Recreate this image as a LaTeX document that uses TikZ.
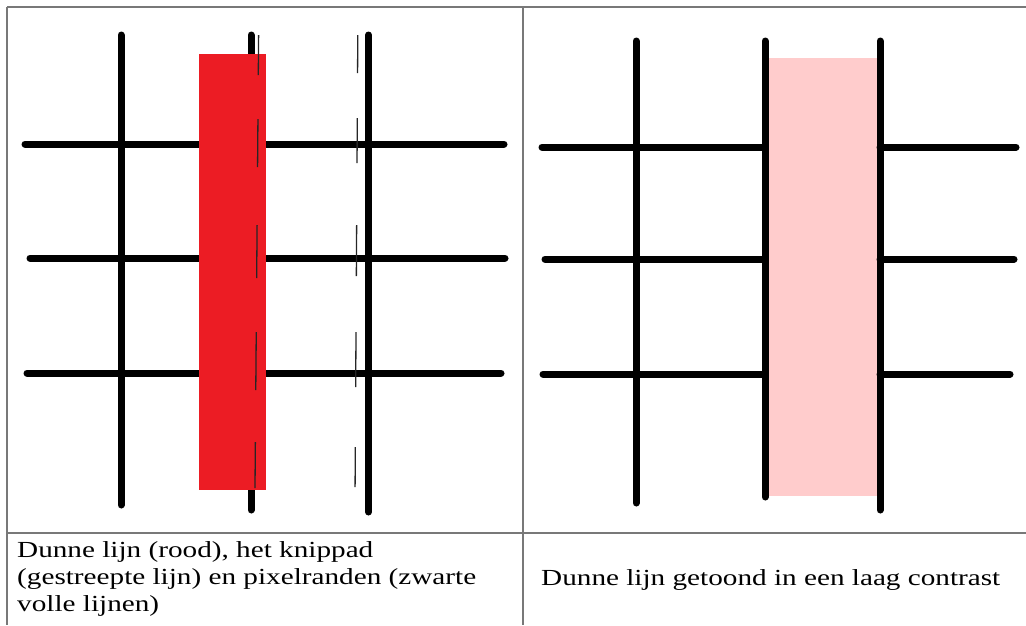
\documentclass[tikz,border=0pt]{standalone}
\usepackage{fontspec}
\usepackage{xcolor}
\usepackage{tikz}
\newfontfamily\capfont{Liberation Serif}[FakeStretch=1.27]
\definecolor{linered}{RGB}{236, 28, 36}
\definecolor{lowpink}{RGB}{255, 204, 204}
\definecolor{rulegray}{RGB}{120, 120, 120}

\begin{document}
\begin{tikzpicture}[x=1pt, y=-1pt,
  pixedge/.style={line width=7pt, line cap=round, black},
  clipdash/.style={line width=1.3pt, black!85},
  cellrule/.style={line width=1.5pt, rulegray},
  caption/.style={font=\capfont\fontsize{23}{27}\selectfont, inner sep=0pt, align=left}]
\useasboundingbox (0,0) rectangle (1026,625);

% table rules
\draw[cellrule] (7,7) -- (1026,7);
\draw[cellrule] (7,7) -- (7,625);
\draw[cellrule] (523,7) -- (523,625);
\draw[cellrule] (7,533) -- (1026,533);

% left cell: pixel edges
\draw[pixedge] (25,144) -- (504,144);
\draw[pixedge] (30,258) -- (505,258);
\draw[pixedge] (27,373) -- (501,373);
\draw[pixedge] (121,35) -- (121,505);
\draw[pixedge] (251,35) -- (251,510);
\draw[pixedge] (368.5,35) -- (368.5,512);

% thin line in red
\fill[linered] (199,54) rectangle (266,490);

% clip path
\foreach \ya/\yb in {35/75, 119/167, 225/278, 332/390, 442/488}
  \draw[clipdash] (258.9-0.008*\ya,\ya) -- (258.9-0.008*\yb,\yb);
\foreach \ya/\yb in {35/73, 118/163, 225/276, 332/387, 447/487}
  \draw[clipdash] (358-0.006*\ya,\ya) -- (358-0.006*\yb,\yb);

% right cell: low contrast
\fill[lowpink] (767,58) rectangle (879,496);
\draw[pixedge] (542,147) -- (765,147);
\draw[pixedge] (880,147) -- (1016,147);
\draw[pixedge] (545,259) -- (765,259);
\draw[pixedge] (880,259) -- (1014,259);
\draw[pixedge] (543,374) -- (765,374);
\draw[pixedge] (880,374) -- (1010,374);
\draw[pixedge] (636,41) -- (636,503);
\draw[pixedge] (765,41) -- (765,497);
\draw[pixedge] (880,41) -- (880,510);

% captions
\node[caption, anchor=base west] (capleft) at (17,611)
  {Dunne lijn (rood), het knippad\\(gestreepte lijn) en pixelranden (zwarte\\volle lijnen)};
\node[caption, anchor=base west] (capright) at (541,585)
  {Dunne lijn getoond in een laag contrast};
\end{tikzpicture}
\end{document}
